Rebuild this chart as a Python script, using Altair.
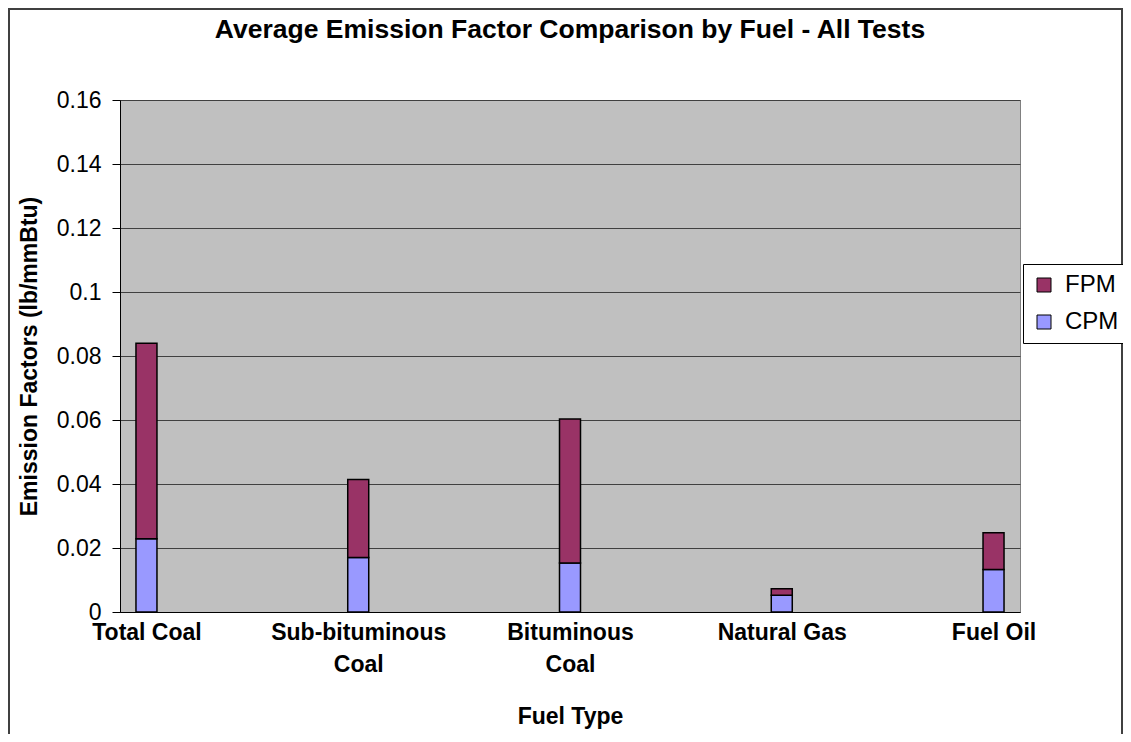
import altair as alt
import pandas as pd

categories = ["Total Coal", "Sub-bituminous Coal", "Bituminous Coal", "Natural Gas", "Fuel Oil"]
cpm = [0.0229, 0.0170, 0.0153, 0.0052, 0.0133]
fpm = [0.0611, 0.0244, 0.0450, 0.0021, 0.0115]
series = ["FPM", "CPM"]
colors = ["#993366", "#9999FF"]
y_ticks = [0, 0.02, 0.04, 0.06, 0.08, 0.10, 0.12, 0.14, 0.16]

rows = []
for c, v in zip(categories, cpm):
    rows.append({"fuel": c, "series": "CPM", "value": v, "ord": 0})
for c, v in zip(categories, fpm):
    rows.append({"fuel": c, "series": "FPM", "value": v, "ord": 1})
df = pd.DataFrame(rows)

FONT = "Liberation Sans"

bars = alt.Chart(df).mark_bar(size=21, stroke="black", strokeWidth=1.5).encode(
    x=alt.X(
        "fuel:N",
        sort=categories,
        scale=alt.Scale(type="point", padding=0.125),
        axis=alt.Axis(
            title="Fuel Type",
            labelAngle=0,
            labelFont=FONT,
            labelFontSize=23,
            labelFontWeight="bold",
            labelColor="black",
            labelPadding=9,
            labelLineHeight=32,
            labelOverlap=False,
            ticks=False,
            tickSize=0,
            domainColor="black",
            domainWidth=1,
            grid=False,
            labelExpr="(datum.label == 'Sub-bituminous Coal' || datum.label == 'Bituminous Coal') ? split(datum.label, ' ') : datum.label",
            titleFont=FONT,
            titleFontSize=23,
            titleFontWeight="bold",
            titleColor="black",
            titleX=450,
            titleY=111,
            titleBaseline="alphabetic",
            titleAlign="center",
        ),
    ),
    y=alt.Y(
        "value:Q",
        stack="zero",
        scale=alt.Scale(domain=[0, 0.16], nice=False),
        axis=alt.Axis(
            values=y_ticks,
            format="~g",
            labelFont=FONT,
            labelFontSize=23,
            labelColor="black",
            labelPadding=11,
            tickSize=8,
            tickColor="black",
            domainColor="black",
            gridColor="#404040",
            gridWidth=1,
            title="Emission Factors (lb/mmBtu)",
            titleFont=FONT,
            titleFontSize=23,
            titleFontWeight="bold",
            titleColor="black",
            titleX=-91,
            titleY=256,
            titleAngle=270,
            titleAlign="center",
            titleBaseline="middle",
        ),
    ),
    color=alt.Color(
        "series:N",
        scale=alt.Scale(domain=series, range=colors),
        legend=alt.Legend(
            title=None,
            orient="none",
            legendX=903,
            legendY=164,
            symbolType="square",
            symbolSize=196,
            symbolStrokeColor="black",
            symbolStrokeWidth=1,
            symbolOpacity=1,
            labelFont=FONT,
            labelFontSize=24,
            labelColor="black",
            labelOffset=9,
            strokeColor="black",
            fillColor="white",
            padding=9,
            rowPadding=13,
        ),
    ),
    order=alt.Order("ord:Q", sort="ascending"),
)

border = alt.Chart(pd.DataFrame({"a": [0]})).mark_rect(
    fillOpacity=0, stroke="#404040", strokeWidth=2
).encode(
    x=alt.value(-111), x2=alt.value(1002), y=alt.value(-91), y2=alt.value(700)
)

chart = alt.layer(border, bars).properties(
    width=900,
    height=512,
    autosize=alt.AutoSizeParams(type="none"),
    padding={"left": 112, "top": 92, "right": 103, "bottom": 122},
    background="white",
    title=alt.TitleParams(
        "Average Emission Factor Comparison by Fuel - All Tests",
        font=FONT,
        fontSize=26.5,
        fontWeight="bold",
        color="black",
        anchor="middle",
        offset=0,
        dy=35,
    ),
).configure(font=FONT).configure_view(fill="#C0C0C0", stroke="#808080", strokeWidth=1)

chart.save("out.html", embed_options={"renderer": "svg", "actions": False})
